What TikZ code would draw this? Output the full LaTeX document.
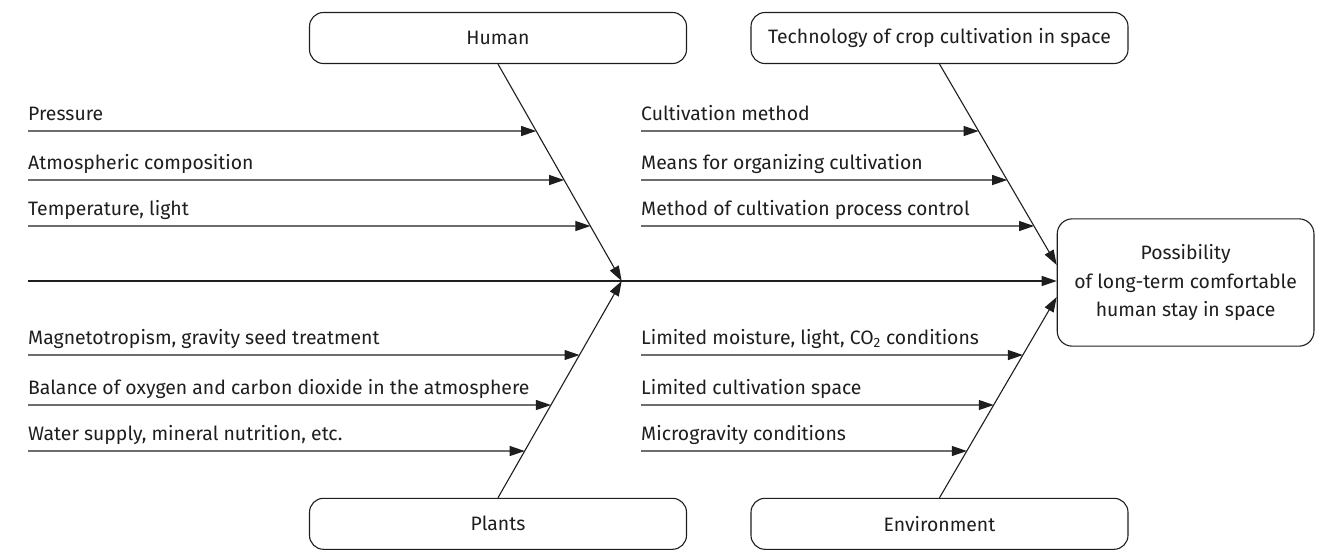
\documentclass[tikz,border=0pt]{standalone}
\usepackage{fontspec}
\setmainfont{Fira Sans}
\usetikzlibrary{arrows.meta,calc}
\definecolor{ink}{RGB}{30,30,30}
\begin{document}
\begin{tikzpicture}[x=1pt,y=-1pt,
  every node/.style={font=\fontsize{19.4}{28.5}\selectfont, text=ink},
  catbox/.style={draw=ink, line width=1.1pt, rounded corners=14pt, minimum width=377pt, minimum height=51pt, inner sep=0pt},
  resbox/.style={draw=ink, line width=1.1pt, rounded corners=15pt, minimum width=256.7pt, minimum height=127.3pt, align=center, inner sep=0pt},
  lbl/.style={anchor=base west, inner sep=0pt},
  arr/.style={draw=ink, line width=1.1pt, -{Triangle[length=15pt,width=10pt]}},
  bone/.style={draw=ink, line width=1.1pt}
]
\useasboundingbox (0,0) rectangle (1328,550);

% category boxes
\node[catbox] (human) at (498,38) {Human};
\node[catbox] (tech) at (939.5,38) {Technology of crop cultivation in space};
\node[catbox] (plants) at (498,523.8) {Plants};
\node[catbox] (env) at (939.5,523.8) {Environment};

% result box
\node[resbox] (res) at (1185.6,282.5) {Possibility\\of long-term comfortable\\human stay in space};

% spine
\coordinate (sp0) at (28,281);
\coordinate (hj) at (621.7,281);
\draw[arr] (sp0) -- (res.west |- sp0);

% bones
\coordinate (tj) at ($(res.west)+(0,-17.5)$);
\coordinate (ej) at ($(res.west)+(0,14.5)$);
\draw[arr] (human.south) -- (hj);
\draw[arr] (plants.north) -- (hj);
\draw[arr] (tech.south) -- (tj);
\draw[arr] (env.north) -- (ej);

% left-top causes (Human)
\foreach \yy/\t/\n in {131/Pressure/a, 180/Atmospheric composition/b, 226/{Temperature, light}/c}{
  \node[lbl] (l\n) at (28,\yy-10.5) {\t};
  \coordinate (s\n) at (28,\yy);
  \coordinate (r\n) at (1300,\yy);
  \coordinate (e\n) at (intersection of human.south--hj and s\n--r\n);
  \draw[arr] (s\n) -- (e\n);
}
% left-bottom causes (Plants)
\foreach \yy/\t/\n in {355/{Magnetotropism, gravity seed treatment}/d, 405/Balance of oxygen and carbon dioxide in the atmosphere/e, 451/{Water supply, mineral nutrition, etc.}/f}{
  \node[lbl] (l\n) at (28,\yy-10.5) {\t};
  \coordinate (s\n) at (28,\yy);
  \coordinate (r\n) at (1300,\yy);
  \coordinate (e\n) at (intersection of plants.north--hj and s\n--r\n);
  \draw[arr] (s\n) -- (e\n);
}
% right-top causes (Technology)
\foreach \yy/\t/\n in {131/Cultivation method/g, 180/Means for organizing cultivation/h, 226/Method of cultivation process control/i}{
  \node[lbl] (l\n) at (641,\yy-10.5) {\t};
  \coordinate (s\n) at (641,\yy);
  \coordinate (r\n) at (1300,\yy);
  \coordinate (e\n) at (intersection of tech.south--tj and s\n--r\n);
  \draw[arr] (s\n) -- (e\n);
}
% right-bottom causes (Environment)
\foreach \yy/\t/\n in {355/{Limited moisture, light, CO\textsubscript{2} conditions}/j, 405/Limited cultivation space/k, 451/Microgravity conditions/m}{
  \node[lbl] (l\n) at (641,\yy-10.5) {\t};
  \coordinate (s\n) at (641,\yy);
  \coordinate (r\n) at (1300,\yy);
  \coordinate (e\n) at (intersection of env.north--ej and s\n--r\n);
  \draw[arr] (s\n) -- (e\n);
}
\end{tikzpicture}
\end{document}
